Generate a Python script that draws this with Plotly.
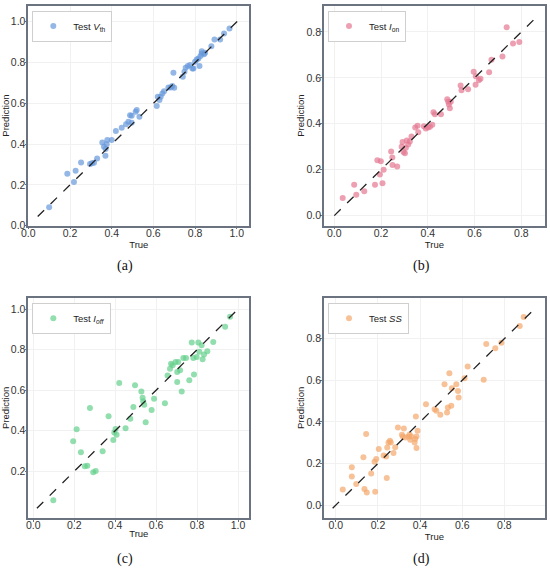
"""Test-set parity plots (True vs Prediction) for Vth, Ion, Ioff and SS."""
import plotly.graph_objects as go
from plotly.subplots import make_subplots

# (a) Vth
VTH_TRUE = [0.10, 0.187, 0.219, 0.227, 0.253, 0.296, 0.305, 0.315, 0.33, 0.355, 0.363, 0.371,
            0.376, 0.37, 0.379, 0.40, 0.42, 0.448, 0.469, 0.48, 0.488, 0.496, 0.496, 0.515,
            0.52, 0.533, 0.616, 0.621, 0.629, 0.635, 0.643, 0.651, 0.672, 0.683, 0.691, 0.696,
            0.70, 0.741, 0.749, 0.755, 0.765, 0.776, 0.787, 0.792, 0.80, 0.808, 0.816, 0.821,
            0.826, 0.832, 0.832, 0.843, 0.848, 0.878, 0.893, 0.92, 0.939, 0.965]
VTH_PRED = [0.09, 0.255, 0.214, 0.27, 0.31, 0.303, 0.306, 0.309, 0.33, 0.408, 0.387, 0.376,
            0.40, 0.343, 0.42, 0.42, 0.464, 0.48, 0.497, 0.51, 0.542, 0.539, 0.505, 0.559,
            0.567, 0.534, 0.587, 0.632, 0.616, 0.632, 0.649, 0.66, 0.678, 0.678, 0.685, 0.75,
            0.676, 0.73, 0.755, 0.775, 0.783, 0.788, 0.771, 0.771, 0.804, 0.815, 0.82, 0.783,
            0.832, 0.845, 0.856, 0.841, 0.848, 0.88, 0.913, 0.913, 0.943, 0.967]

# (b) Ion
ION_TRUE = [0.036, 0.085, 0.094, 0.128, 0.174, 0.184, 0.195, 0.199, 0.206, 0.211, 0.243, 0.248,
            0.249, 0.269, 0.288, 0.292, 0.296, 0.302, 0.306, 0.31, 0.316, 0.323, 0.33, 0.346,
            0.356, 0.359, 0.383, 0.391, 0.401, 0.409, 0.419, 0.424, 0.43, 0.456, 0.483, 0.487,
            0.49, 0.494, 0.498, 0.54, 0.544, 0.572, 0.596, 0.604, 0.605, 0.618, 0.625, 0.662,
            0.672, 0.719, 0.737, 0.764, 0.791]
ION_PRED = [0.077, 0.134, 0.091, 0.106, 0.134, 0.241, 0.179, 0.237, 0.141, 0.20, 0.279, 0.253,
            0.22, 0.214, 0.30, 0.321, 0.277, 0.271, 0.296, 0.327, 0.31, 0.323, 0.344, 0.384,
            0.391, 0.363, 0.389, 0.379, 0.384, 0.387, 0.396, 0.45, 0.441, 0.441, 0.507, 0.496,
            0.484, 0.467, 0.496, 0.567, 0.546, 0.55, 0.627, 0.57, 0.607, 0.589, 0.596, 0.624,
            0.679, 0.693, 0.82, 0.75, 0.756]

# (c) Ioff
IOFF_TRUE = [0.098, 0.195, 0.212, 0.233, 0.252, 0.264, 0.277, 0.293, 0.305, 0.339, 0.368, 0.391,
             0.396, 0.402, 0.407, 0.42, 0.451, 0.474, 0.489, 0.497, 0.528, 0.534, 0.537, 0.542,
             0.549, 0.578, 0.59, 0.643, 0.656, 0.668, 0.673, 0.681, 0.695, 0.703, 0.708, 0.703,
             0.717, 0.725, 0.733, 0.746, 0.762, 0.774, 0.782, 0.785, 0.798, 0.806, 0.811, 0.822,
             0.827, 0.834, 0.85, 0.879, 0.937, 0.961]
IOFF_PRED = [0.058, 0.348, 0.408, 0.294, 0.225, 0.228, 0.512, 0.195, 0.202, 0.299, 0.471, 0.355,
             0.391, 0.409, 0.38, 0.635, 0.413, 0.459, 0.517, 0.624, 0.594, 0.563, 0.545, 0.528,
             0.442, 0.503, 0.558, 0.536, 0.673, 0.706, 0.731, 0.723, 0.739, 0.64, 0.739, 0.69,
             0.698, 0.594, 0.759, 0.759, 0.649, 0.835, 0.759, 0.677, 0.764, 0.835, 0.789, 0.822,
             0.753, 0.776, 0.792, 0.838, 0.913, 0.962]

# (d) SS
SS_TRUE = [0.033, 0.076, 0.076, 0.097, 0.131, 0.136, 0.144, 0.147, 0.168, 0.184, 0.187, 0.192,
           0.204, 0.227, 0.239, 0.242, 0.244, 0.25, 0.257, 0.261, 0.274, 0.282, 0.295, 0.314,
           0.318, 0.323, 0.33, 0.345, 0.35, 0.353, 0.358, 0.374, 0.377, 0.38, 0.383, 0.383,
           0.388, 0.428, 0.469, 0.477, 0.496, 0.516, 0.528, 0.532, 0.539, 0.548, 0.551, 0.572,
           0.58, 0.583, 0.611, 0.626, 0.702, 0.714, 0.757, 0.786, 0.873, 0.892]
SS_PRED = [0.075, 0.182, 0.138, 0.102, 0.23, 0.078, 0.342, 0.061, 0.152, 0.208, 0.064, 0.222,
           0.27, 0.238, 0.234, 0.13, 0.277, 0.301, 0.309, 0.301, 0.25, 0.278, 0.373, 0.338,
           0.33, 0.368, 0.325, 0.33, 0.339, 0.314, 0.33, 0.301, 0.318, 0.426, 0.33, 0.274,
           0.358, 0.485, 0.461, 0.453, 0.434, 0.581, 0.445, 0.469, 0.634, 0.477, 0.562, 0.581,
           0.549, 0.517, 0.61, 0.666, 0.602, 0.774, 0.754, 0.781, 0.861, 0.904]

# identity-line ends per panel
DIAG = {"a": [0.045, 1.02], "b": [0.0, 0.855], "c": [0.018, 1.005], "d": [-0.015, 0.945]}

PANELS = [
    ("a", VTH_TRUE, VTH_PRED, "Test <i>V</i><sub>th</sub>", "rgba(102,153,220,0.7)"),
    ("b", ION_TRUE, ION_PRED, "Test <i>I</i><sub>on</sub>", "rgba(228,120,146,0.7)"),
    ("c", IOFF_TRUE, IOFF_PRED, "Test <i>I</i><sub><i>off</i></sub>", "rgba(100,208,140,0.7)"),
    ("d", SS_TRUE, SS_PRED, "Test <i>SS</i>", "rgba(244,168,108,0.7)"),
]
RANGES = {"a": ([0.0, 1.06], [0.0, 1.08]), "b": ([-0.044, 0.9], [-0.044, 0.915]),
          "c": ([-0.024, 1.055], [-0.03, 1.056]), "d": ([-0.056, 0.992], [-0.062, 0.997])}
YTICKS = {"a": [0, 0.2, 0.4, 0.6, 0.8, 1.0], "b": [0, 0.2, 0.4, 0.6, 0.8],
          "c": [0.2, 0.4, 0.6, 0.8, 1.0], "d": [0, 0.2, 0.4, 0.6, 0.8]}
XTICKS = {"a": [0, 0.2, 0.4, 0.6, 0.8, 1.0], "b": [0, 0.2, 0.4, 0.6, 0.8],
          "c": [0, 0.2, 0.4, 0.6, 0.8, 1.0], "d": [0, 0.2, 0.4, 0.6, 0.8]}

W, H = 550, 569
XDOM = [[28.3 / W, 249.3 / W], [324 / W, 544.8 / W]]
YDOM = [[1 - 225.7 / H, 1 - 5.5 / H], [1 - 518 / H, 1 - 297.7 / H]]
FRAME = "#6b7280"

fig = make_subplots(rows=2, cols=2)
for i, (key, xt, yp, label, col) in enumerate(PANELS):
    r, c = i // 2 + 1, i % 2 + 1
    leg = "legend" if i == 0 else f"legend{i + 1}"
    fig.add_trace(go.Scatter(
        x=xt, y=yp, mode="markers", name=label, legend=leg,
        marker=dict(color=col, size=6, line=dict(width=0))), row=r, col=c)
    fig.add_trace(go.Scatter(
        x=DIAG[key], y=DIAG[key], mode="lines", showlegend=False,
        line=dict(color="#222", width=1.3, dash="dash")), row=r, col=c)
    fig.update_xaxes(domain=XDOM[c - 1], range=RANGES[key][0], tickvals=XTICKS[key],
                     tickformat=".1f", ticklabelstandoff=-5,
                     title=dict(text="True", standoff=0, font=dict(size=9.5, color="#222")),
                     row=r, col=c)
    fig.update_yaxes(domain=YDOM[r - 1], range=RANGES[key][1], tickvals=YTICKS[key],
                     tickformat=".1f", ticklabelstandoff=-3,
                     title=dict(text="Prediction", standoff=0,
                                font=dict(size=9.5, color="#222")),
                     row=r, col=c)
    fig.update_layout({leg: dict(
        x=XDOM[c - 1][0] + 4 / W, y=YDOM[r - 1][1] - 5 / H, xanchor="left", yanchor="top",
        bgcolor="white", bordercolor="#cfcfcf", borderwidth=1,
        font=dict(size=9.5, color="#222"), itemwidth=30, tracegroupgap=0)})

for upd in (fig.update_xaxes, fig.update_yaxes):
    upd(showline=True, mirror=True, linecolor=FRAME, linewidth=1.5, automargin=False,
        ticks="outside", ticklen=2, tickcolor=FRAME, showgrid=True,
        gridcolor="#f1f1f1", gridwidth=0.8, zeroline=False,
        tickfont=dict(size=10.5, color="#333"))

for txt, px, py in [("(a)", 125, 266), ("(b)", 422, 266), ("(c)", 125, 559), ("(d)", 422, 559)]:
    fig.add_annotation(text=txt, x=px / W, y=1 - py / H, xref="paper", yref="paper",
                       xanchor="center", yanchor="middle", showarrow=False,
                       font=dict(family="Liberation Serif", size=14, color="#111"))

fig.update_layout(width=W, height=H, margin=dict(l=0, r=0, t=0, b=0),
                  paper_bgcolor="white", plot_bgcolor="white",
                  font=dict(family="Liberation Sans, Arial, sans-serif"))
# page body has a default 8px margin; drop it so the figure sits at the window origin
fig.write_html("out.html", config={"displayModeBar": False},
               post_script="document.body.style.margin='0';")
